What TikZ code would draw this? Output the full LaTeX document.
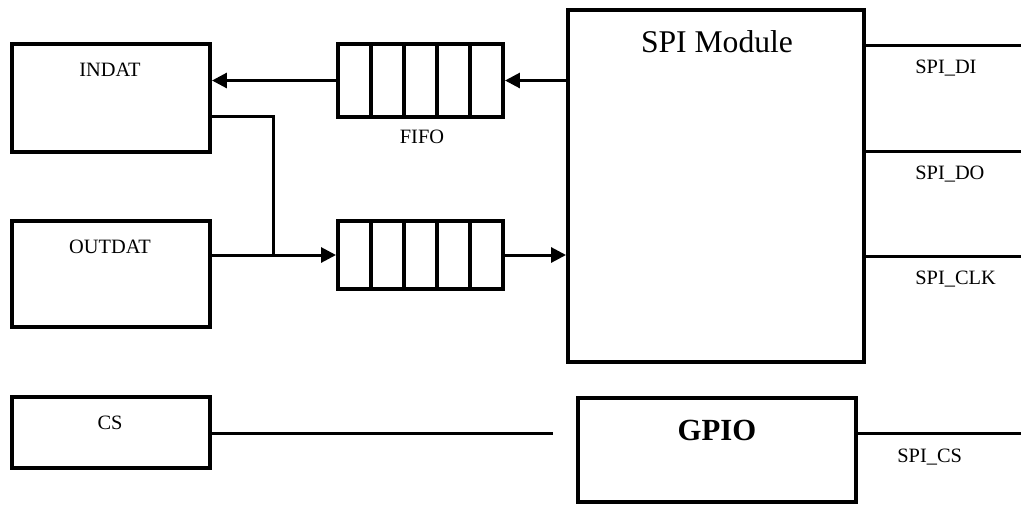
\documentclass[tikz,border=0pt]{standalone}
\usepackage{fontspec}
\setmainfont{Liberation Serif}
\usetikzlibrary{arrows.meta, positioning}

\begin{document}
\begin{tikzpicture}[x=0.02cm, y=-0.02cm, >={Triangle[length=0.3cm, width=0.3cm]},
    blk/.style={draw, line width=0.08cm, inner sep=0pt},
    cell/.style={draw, line width=0.08cm, inner sep=0pt, minimum width=0.66cm},
    wire/.style={line width=0.06cm},
    lbl/.style={font=\fontsize{11.6}{14}\selectfont, inner sep=0pt}]
      \useasboundingbox (0,0) rectangle (1021,505);
      % Host registers
      \node[blk, minimum width=3.96cm, minimum height=2.16cm] (indat) at (111,98) {};
      \node[lbl] (indat-txt) at (110,70) {INDAT};
      \node[blk, minimum width=3.96cm, minimum height=2.12cm] (outdat) at (111,274) {};
      \node[lbl] (outdat-txt) at (110,247) {OUTDAT};
      \node[blk, minimum width=3.96cm, minimum height=1.42cm] (cs) at (111,432.5) {};
      \node[lbl] (cs-txt) at (110,423) {CS};
      % FIFOs
      \foreach \i in {0,...,4}{
        \node[cell, minimum height=1.46cm] (fin-\i) at (354.5+33*\i,80.5) {};
        \node[cell, minimum height=1.36cm] (fout-\i) at (354.5+33*\i,255) {};
      }
      \node[lbl] (fifo-txt) at (422,137) {FIFO};
      % SPI
      \node[blk, minimum width=5.92cm, minimum height=7.04cm] (spi) at (716,186) {};
      \node[font=\fontsize{18}{20}\selectfont, inner sep=0pt] (spi-txt) at (717,42) {SPI Module};
      % GPIO
      \node[blk, minimum width=5.56cm, minimum height=2.08cm] (gpio) at (717,450) {};
      \node[font=\bfseries\fontsize{17.5}{20}\selectfont, inner sep=0pt] (gpio-txt) at (717,430) {GPIO};
      % Data paths
      \coordinate (tap) at (273,256);
      \draw[wire, ->] (spi.west |- fin-4.east) -- (fin-4.east);
      \draw[wire, ->] (fin-0.west) -- (fin-0.west -| indat.east);
      \draw[wire] ([yshift=-0.36cm]indat.east) -| (tap);
      \draw[wire, ->] (outdat.east |- fout-0.west) -- (fout-0.west);
      \draw[wire, ->] (fout-4.east) -- (fout-4.east -| spi.west);
      % Pins
      \foreach \y/\nm/\txt in {45/di/SPI\_DI, 151/do/SPI\_DO, 256/clk/SPI\_CLK}{
        \coordinate (\nm) at (1021,\y);
        \draw[wire] (spi.east |- \nm) -- (\nm);
        \node[lbl, anchor=west] (\nm-txt) at (915,\y+23) {\txt};
      }
      % Chip select
      \coordinate (cs-end) at (553,433);
      \coordinate (spics) at (1021,433);
      \draw[wire] (cs.east |- cs-end) -- (cs-end);
      \draw[wire] (gpio.east |- spics) -- (spics);
      \node[lbl, anchor=west] (spics-txt) at (897,457) {SPI\_CS};
    \end{tikzpicture}
\end{document}
